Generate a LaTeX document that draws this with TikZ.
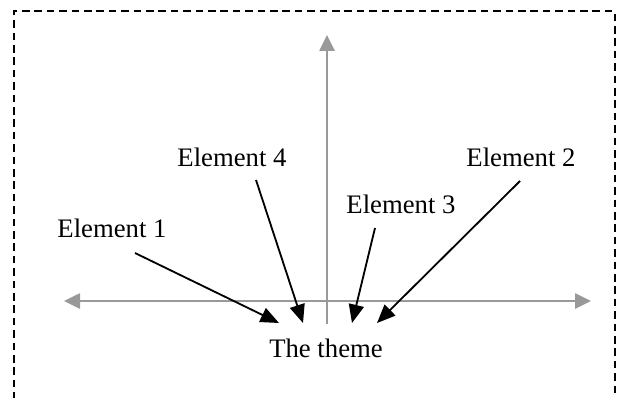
\documentclass[tikz,border=0pt]{standalone}
\usepackage{fontspec}
\setmainfont{Liberation Serif}
\usetikzlibrary{arrows.meta}

\begin{document}
\begin{tikzpicture}[
	axis/.style={line width=1.4pt, black!40, {Triangle[length=0.4cm,width=0.38cm]}-{Triangle[length=0.4cm,width=0.38cm]}},
	pointer/.style={line width=1.3pt, black, -{Triangle[length=0.46cm,width=0.38cm]}},
	elem/.style={anchor=base, inner sep=0pt, font=\fontsize{19}{23}\selectfont}
]
	\useasboundingbox (0,0) rectangle (15.425,9.925);
	\draw [line width=1.4pt, dash pattern=on 0.19cm off 0.12cm] (0.34,-1) rectangle (15.375,9.64);

	% axes
	\coordinate (xl) at (1.6,2.4);
	\coordinate (xr) at (14.775,2.4);
	\coordinate (yb) at (8.175,1.825);
	\coordinate (yt) at (8.175,9.05);
	\draw [axis] (xl) -- (xr);
	\draw [axis, -{Triangle[length=0.4cm,width=0.38cm]}] (yb) -- (yt);

	% labels
	\node[elem] (e1) at (2.8,4.0) {Element 1};
	\node[elem] (e4) at (5.8,5.775) {Element 4};
	\node[elem] (e3) at (10.025,4.6) {Element 3};
	\node[elem] (e2) at (13.025,5.775) {Element 2};
	\node[elem] (theme) at (8.15,1.0) {The theme};

	% arrow ends
	\coordinate (e1s) at (3.375,3.6);
	\coordinate (e4s) at (6.4,5.425);
	\coordinate (e3s) at (9.375,4.225);
	\coordinate (e2s) at (13.0,5.4);
	\coordinate (t1) at (6.975,1.85);
	\coordinate (t4) at (7.575,1.85);
	\coordinate (t3) at (8.8,1.85);
	\coordinate (t2) at (9.425,1.85);

	\draw [pointer] (e1s) -- (t1);
	\draw [pointer] (e4s) -- (t4);
	\draw [pointer] (e3s) -- (t3);
	\draw [pointer] (e2s) -- (t2);
\end{tikzpicture}
\end{document}
